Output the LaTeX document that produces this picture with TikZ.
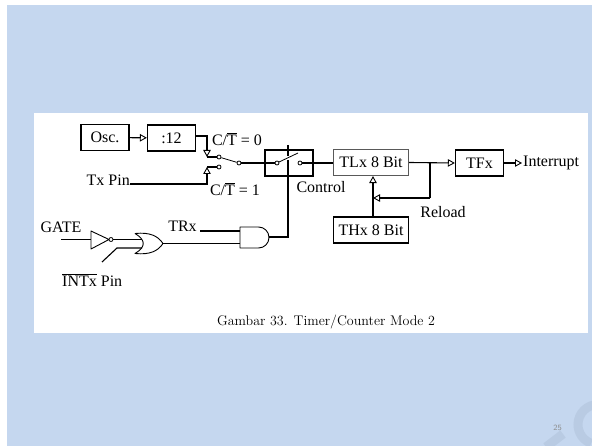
\documentclass[tikz,border=0pt]{standalone}
\usepackage{fontspec}
\setmainfont{Liberation Serif}
\usepackage{tikz}
\usepackage[dvipsnames,svgnames]{xcolor}
\usetikzlibrary{arrows.meta}
\definecolor{slideblue}{HTML}{C5D7EF}
\definecolor{markblue}{HTML}{B9CBE3}

\begin{document}
\begin{tikzpicture}[
    x=1pt, y=-1pt,
    font=\fontsize{16}{18}\selectfont,
    % wires
    wire/.style={draw, line width=1.1pt},
    feed/.style={wire, -{Triangle[open, length=7pt, width=7.5pt, line width=0.9pt]}},
    % boxes
    blok/.style={
        rectangle,
        draw=black,
        line width=1.3pt,
        inner sep=0pt,
        minimum height=26pt,
        minimum width=48pt
    },
    wideblok/.style={blok, minimum width=75pt},
    % switch contacts
    contact/.style={circle, draw, fill=white, line width=0.8pt, inner sep=0pt, minimum size=4pt},
    label/.style={inner sep=0pt},
    % gates
    gate/.style={draw, line width=0.9pt, line join=round}
]
\useasboundingbox (0,0) rectangle (592,446);

% --- background ---
\fill[slideblue] (7,5) rectangle (592,446);
\draw[markblue, line width=9pt] (598,404.5) arc (-90:-250:20);
\draw[markblue, line width=9pt] (546,447) -- (563,434);
\fill[white] (34,113) rectangle (588,333);

% --- top row ---
\node[blok] (osc) at (105,137.5) {Osc.};
\node[blok] (div) at (171.5,138) {:12};
\node[contact] (zero) at (219,157) {};
\node[contact] (one) at (219,167) {};
\node[contact] (common) at (239,163) {};
\node[blok] (ctrl) at (289,163) {};
\node[contact] (ctrlin) at (277,163) {};
\node[contact] (ctrlout) at (300,163) {};
\node[wideblok, draw=black!65, line width=1.1pt] (tl) at (371,162.5) {TLx 8 Bit};
\node[blok] (tf) at (479.5,163) {TFx};
\node[wideblok] (th) at (371,230) {THx 8 Bit};

% --- labels ---
\node[label] (czero) at (237,139) {C/$\overline{\mbox{T}}$ = 0};
\node[label] (cone) at (235,189) {C/$\overline{\mbox{T}}$ = 1};
\node[label, anchor=east] (txpin) at (130,180) {Tx Pin};
\node[label] (control) at (321,187) {Control};
\node[label] (reload) at (443,212) {Reload};
\node[label, anchor=west] (interrupt) at (523,163) {Interrupt};
\node[label] (gatetext) at (61,227) {GATE};
\node[label] (trx) at (182.5,226) {TRx};
\node[label, anchor=west] (intx) at (62,280) {$\overline{\mbox{INTx}}$ Pin};
\node[label, font=\fontfamily{lmr}\fontsize{14}{16}\selectfont] (caption) at (326,322) {Gambar 33. Timer/Counter Mode 2};
\node[label, text=black!45, font=\sffamily\fontsize{8}{9}\selectfont] (page) at (557.5,428) {25};

% --- gates ---
\draw[gate] (91,231) -- (91,249) -- (109,239.5) -- cycle;
\node[contact] (bubble) at (111,239.5) {};
\draw[gate] (135,233.5) .. controls (150,232) and (158,236) .. (163,243.5)
    .. controls (158,251) and (150,255) .. (135,253.5)
    .. controls (146,247) and (146,240) .. (135,233.5);
\draw[gate] (240,227) -- (258.5,227) arc (-90:90:10.5) -- (240,248) -- cycle;

% --- free wire ends ---
\coordinate (gatein) at (61,239.5);
\coordinate (invin) at (91,239.5);
\coordinate (orin) at (142,239.5);
\coordinate (intin) at (102,262);
\coordinate (intbend) at (117,248);
\coordinate (orintin) at (142,248);
\coordinate (orout) at (163,243.5);
\coordinate (andin) at (240,243.5);
\coordinate (trxin) at (200,231);
\coordinate (trxend) at (240,231);
\coordinate (andout) at (269,237);
\coordinate (linkup) at (288,145);
\coordinate (linkmid) at (288,156);
\coordinate (linkgap) at (288,160);
\coordinate (joint) at (430,162);
\coordinate (reloadend) at (430,198);
\coordinate (reloadtip) at (373,198);

% --- clock path ---
\draw[feed] (osc) -- (div);
\draw[wire] (div.east |- 0,136) -| (207,145);
\draw[feed] (207,140) -- (207,157);
\draw[wire] (207,157) -- (zero);
\draw[wire] (txpin.east |- 0,184) -| (207,178);
\draw[feed] (207,178) -- (207,167);
\draw[wire] (207,167) -- (one);
\draw[wire, line width=0.8pt] (zero) -- (common);
\draw[wire] (common) -- (ctrlin);
\draw[wire, line width=0.8pt] (ctrlin) -- (298,153);
\draw[wire] (linkup) -- (linkmid);
\draw[wire] (linkgap) -- (ctrl.south -| linkgap);
\draw[wire] (ctrlout) -- (tl.west |- ctrlout);

% --- right side ---
\draw[feed] (tl.east) -- (tf.west);
\draw[wire] (joint) -- (reloadend);
\draw[feed] (reloadend) -- (reloadtip);
\draw[feed] (th.north -| reloadtip) -- (tl.south -| reloadtip);
\draw[feed] (tf.east) -- (interrupt.west -| 522,0);

% --- gate wiring ---
\draw[wire] (gatein) -- (invin);
\draw[wire] (bubble) -- (orin);
\draw[wire] (intin) -- (intbend) -- (orintin);
\draw[wire] (orout) -- (andin);
\draw[wire] (trxin) -- (trxend);
\draw[wire] (andout) -| (ctrl.south -| linkgap);

\end{tikzpicture}
\end{document}
